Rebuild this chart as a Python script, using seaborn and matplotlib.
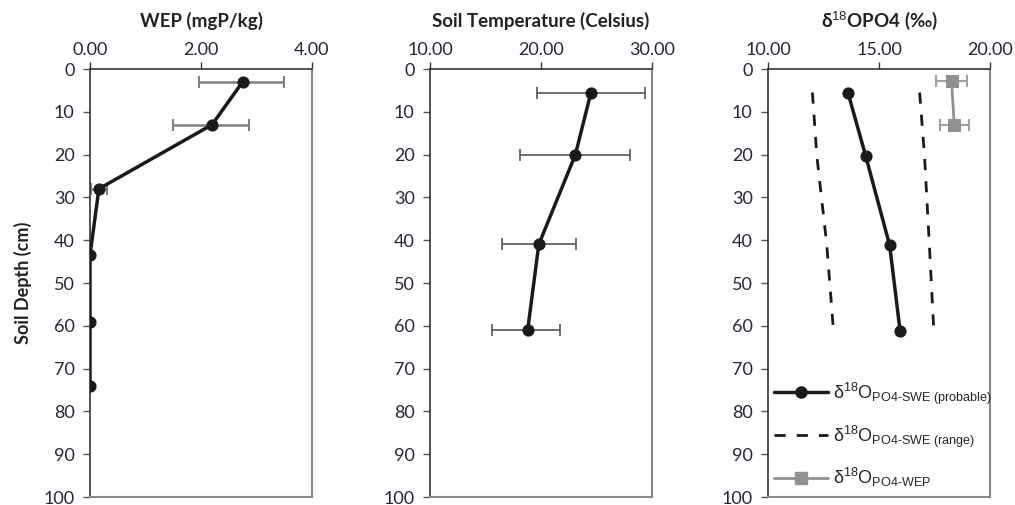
import matplotlib
matplotlib.use("Agg")
import matplotlib.pyplot as plt
import seaborn as sns
import numpy as np
from matplotlib.lines import Line2D

# ---- data ----
wep_depth = [3, 13, 28, 43.5, 59, 74]
wep_val = [2.75, 2.2, 0.16, 0.0, 0.0, 0.0]
wep_err_lo = [0.78, 0.7, 0.14, 0.0, 0.0, 0.0]
wep_err_hi = [0.74, 0.66, 0.14, 0.0, 0.0, 0.0]

temp_depth = [5.5, 20, 41, 61]
temp_val = [24.5, 23.1, 19.8, 18.8]
temp_err_lo = [4.9, 5.0, 3.3, 3.2]
temp_err_hi = [4.9, 4.9, 3.35, 2.9]

swe_depth = [5.5, 20.3, 41.2, 61.2]
swe_prob = [13.6, 14.4, 15.48, 15.95]
swe_low = [12.0, 12.2, 12.65, 12.95]
swe_high = [16.83, 17.05, 17.27, 17.47]

wepo_depth = [2.9, 13.2]
wepo_val = [18.27, 18.39]
wepo_err = [0.68, 0.65]

titles = ["WEP (mgP/kg)", "Soil Temperature (Celsius)", "δ$^{18}$OPO4 (‰)"]
xlims = [(0, 4), (10, 30), (10, 20)]
xticks = [[0, 2, 4], [10, 20, 30], [10, 15, 20]]
yticks = list(range(0, 101, 10))

sns.set_theme(style="white")
plt.rcParams['font.family'] = ['Lato', 'DejaVu Sans']
plt.rcParams['mathtext.fontset'] = 'custom'
plt.rcParams['mathtext.rm'] = 'Liberation Sans'
plt.rcParams['mathtext.it'] = 'Liberation Sans'
plt.rcParams['mathtext.bf'] = 'Lato:bold'

fig = plt.figure(figsize=(10.15, 5.05), dpi=100)
W, H = 1015, 505
lefts = [90, 430, 768]
axw = 222
top_px, bot_px = 69, 497
axes = []
for l in lefts:
    ax = fig.add_axes([l / W, 1 - bot_px / H, axw / W, (bot_px - top_px) / H])
    axes.append(ax)

black = "#1a1a1a"
gray = "#808080"

# Panel 1
ax = axes[0]
ax.errorbar(wep_val, wep_depth, xerr=[wep_err_lo, wep_err_hi], fmt="none",
            ecolor=gray, elinewidth=1.8, capsize=4, capthick=1.5, zorder=2)
sns.lineplot(x=wep_val, y=wep_depth, orient="y", ax=ax, color=black, lw=2.5,
             marker="o", markersize=8, markeredgecolor=black, zorder=3)

# Panel 2
ax = axes[1]
ax.errorbar(temp_val, temp_depth, xerr=[temp_err_lo, temp_err_hi], fmt="none",
            ecolor="#555555", elinewidth=1.2, capsize=4, capthick=1.2, zorder=2)
sns.lineplot(x=temp_val, y=temp_depth, orient="y", ax=ax, color=black, lw=2.5,
             marker="o", markersize=8, markeredgecolor=black, zorder=3)

# Panel 3
ax = axes[2]
sns.lineplot(x=swe_low, y=swe_depth, orient="y", ax=ax, color=black, lw=2,
             linestyle=(0, (4, 4)))
sns.lineplot(x=swe_high, y=swe_depth, orient="y", ax=ax, color=black, lw=2,
             linestyle=(0, (4, 4)))
sns.lineplot(x=swe_prob, y=swe_depth, orient="y", ax=ax, color=black, lw=2.5,
             marker="o", markersize=8, markeredgecolor=black, zorder=3)
ax.errorbar(wepo_val, wepo_depth, xerr=wepo_err, fmt="none",
            ecolor="#a0a0a0", elinewidth=1.5, capsize=4, capthick=1.5, zorder=2)
sns.lineplot(x=wepo_val, y=wepo_depth, orient="y", ax=ax, color="#909090", lw=2,
             marker="s", markersize=8, markeredgecolor="#909090", zorder=3)

handles = [
    Line2D([], [], color=black, lw=2.5, marker="o", markersize=8),
    Line2D([], [], color=black, lw=2, linestyle=(0, (4, 4))),
    Line2D([], [], color="#909090", lw=2, marker="s", markersize=8),
]
labels = [
    r"δ$^{18}$O$_{\text{PO4-SWE (probable)}}$",
    r"δ$^{18}$O$_{\text{PO4-SWE (range)}}$",
    r"δ$^{18}$O$_{\text{PO4-WEP}}$",
]
leg = ax.legend(handles, labels, loc="lower left", bbox_to_anchor=(-0.045, -0.02),
                frameon=False, prop={"family": ["Liberation Sans"], "size": 13},
                handlelength=3.0, labelspacing=0.92, handletextpad=0.25)

for i, ax in enumerate(axes):
    ax.set_xlim(*xlims[i])
    ax.set_ylim(100, 0)
    ax.set_xticks(xticks[i])
    ax.set_xticklabels([f"{v:.2f}" for v in xticks[i]])
    ax.set_yticks(yticks)
    ax.set_yticklabels([str(v) for v in yticks])
    ax.xaxis.tick_top()
    ax.tick_params(axis="x", top=True, bottom=False, direction="out", length=5,
                   width=1, color="#333333", labelsize=13, labelcolor="#262636", pad=3)
    ax.tick_params(axis="y", left=True, direction="out", length=5, width=1,
                   color="#555555", labelsize=13, labelcolor="#262636", pad=6)
    for s in ["top", "left"]:
        ax.spines[s].set_color("#333333")
        ax.spines[s].set_linewidth(1.2)
    for s in ["right", "bottom"]:
        ax.spines[s].set_color("#888888")
        ax.spines[s].set_linewidth(1.5)
    ax.set_xlabel("")
    ax.set_ylabel("")
    ax.set_title(titles[i], fontsize=13.5, fontweight="bold", pad=30, color="#222222")
    ax.grid(False)

axes[0].set_ylabel("Soil Depth (cm)", fontsize=13, fontweight="bold",
                   color="#222222", labelpad=8)

fig.savefig("out.png", dpi=100)
